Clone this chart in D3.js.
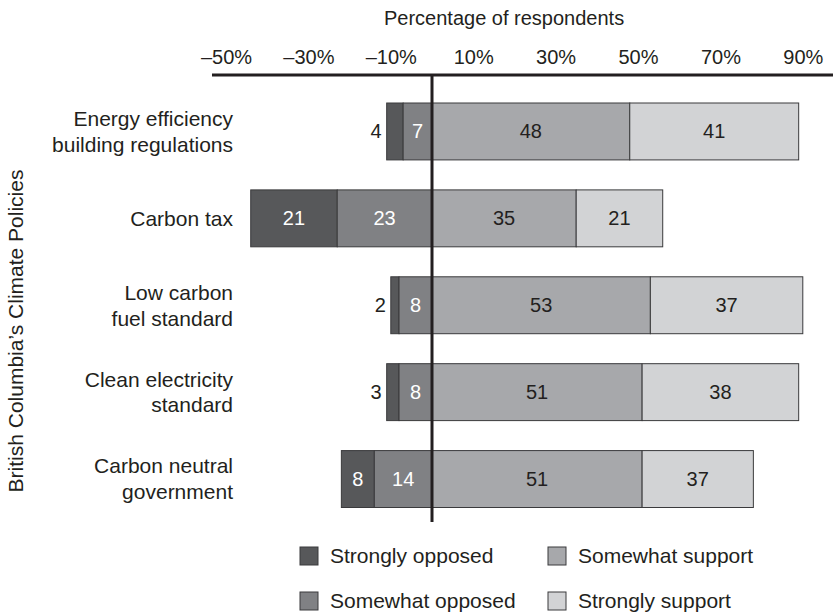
<!DOCTYPE html>
<meta charset="utf-8">
<style>
  body { margin: 0; background: #fff; }
  svg { font-family: "Liberation Sans", Arial, Helvetica, sans-serif; }
</style>
<body>
<script src="https://d3js.org/d3.v7.min.js"></script>
<script>
  // policies, top to bottom
  var policies = [
    "Energy efficiency|building regulations",
    "Carbon tax",
    "Low carbon|fuel standard",
    "Clean electricity|standard",
    "Carbon neutral|government"
  ];

  var seriesNames = ["Strongly opposed", "Somewhat opposed", "Somewhat support", "Strongly support"];

  // percentages as drawn in the figure
  var stronglyOpposed = [4, 21, 2, 3, 8];
  var somewhatOpposed = [7, 23, 8, 8, 14];
  var somewhatSupport = [48, 35, 53, 51, 51];
  var stronglySupport = [41, 21, 37, 38, 27];

  // numbers printed on the bars (the last one is printed as 37 in the original)
  var stronglySupportLabels = [41, 21, 37, 38, 37];

  var tickValues = [-50, -30, -10, 10, 30, 50, 70, 90];

  var W = 833, H = 614;
  var colors = ["#57585a", "#808184", "#a7a8ab", "#d2d3d5"];
  var ink = "#231f20";

  var svg = d3.select("body").append("svg")
    .attr("width", W)
    .attr("height", H);

  var x = d3.scaleLinear()
    .domain([-50, 90])
    .range([226, 802.8]);

  var y = d3.scaleBand()
    .domain(d3.range(policies.length))
    .range([103, 507.5])
    .paddingInner(0.345);

  // build segments
  var rows = policies.map(function (p, i) {
    var so = stronglyOpposed[i], wo = somewhatOpposed[i];
    var ws = somewhatSupport[i], ss = stronglySupport[i];
    return [
      { s: 0, x0: -(so + wo), x1: -wo, label: so, i: i },
      { s: 1, x0: -wo, x1: 0, label: wo, i: i },
      { s: 2, x0: 0, x1: ws, label: ws, i: i },
      { s: 3, x0: ws, x1: ws + ss, label: stronglySupportLabels[i], i: i }
    ];
  });

  // title
  svg.append("text")
    .attr("x", x(17.5))
    .attr("y", 25)
    .attr("text-anchor", "middle")
    .style("font-size", "20px")
    .attr("fill", ink)
    .text("Percentage of respondents");

  // top axis
  var axis = d3.axisTop(x)
    .tickValues(tickValues)
    .tickSize(0)
    .tickPadding(11)
    .tickFormat(function (d) { return (d < 0 ? "\u2013" + Math.abs(d) : d) + "%"; });

  var gAxis = svg.append("g")
    .attr("transform", "translate(0,75)")
    .call(axis);
  gAxis.select(".domain").remove();
  gAxis.selectAll("text")
    .style("font-size", "20px")
    .style("font-family", "'Liberation Sans', Arial, sans-serif")
    .attr("fill", ink);

  svg.append("line")
    .attr("x1", x(-53.4))
    .attr("x2", W)
    .attr("y1", 75)
    .attr("y2", 75)
    .attr("stroke", ink)
    .attr("stroke-width", 3);

  // bars
  var rowG = svg.selectAll(".row")
    .data(rows)
    .enter().append("g")
    .attr("class", "row")
    .attr("transform", function (d, i) { return "translate(0," + y(i) + ")"; });

  rowG.selectAll("rect")
    .data(function (d) { return d; })
    .enter().append("rect")
    .attr("x", function (d) { return x(d.x0); })
    .attr("width", function (d) { return x(d.x1) - x(d.x0); })
    .attr("y", 0)
    .attr("height", y.bandwidth())
    .attr("fill", function (d) { return colors[d.s]; })
    .attr("stroke", "#3a3a3c")
    .attr("stroke-width", 1);

  rowG.selectAll(".val")
    .data(function (d) { return d; })
    .enter().append("text")
    .attr("class", "val")
    .attr("x", function (d) {
      if (d.label < 5) return x(d.x0) - 5;
      return (x(d.x0) + x(d.x1)) / 2;
    })
    .attr("y", y.bandwidth() / 2)
    .attr("dy", "0.35em")
    .attr("text-anchor", function (d) { return d.label < 5 ? "end" : "middle"; })
    .style("font-size", "20px")
    .attr("fill", function (d) { return (d.s < 2 && d.label >= 5) ? "#fff" : ink; })
    .text(function (d) { return d.label; });

  // zero line
  svg.append("line")
    .attr("x1", x(0))
    .attr("x2", x(0))
    .attr("y1", 75)
    .attr("y2", 522)
    .attr("stroke", ink)
    .attr("stroke-width", 3);

  // category labels
  var catG = svg.selectAll(".cat")
    .data(policies)
    .enter().append("text")
    .attr("class", "cat")
    .attr("text-anchor", "end")
    .style("font-size", "21px")
    .attr("fill", ink)
    .attr("transform", function (d, i) { return "translate(233," + (y(i) + y.bandwidth() / 2) + ")"; });

  catG.selectAll("tspan")
    .data(function (d) {
      var parts = d.split("|");
      return parts.map(function (t, k) { return { t: t, k: k, n: parts.length }; });
    })
    .enter().append("tspan")
    .attr("x", 0)
    .attr("y", function (d) { return (d.k - (d.n - 1) / 2) * 26; })
    .attr("dy", "0.35em")
    .text(function (d) { return d.t; });

  // y title
  svg.append("text")
    .attr("transform", "translate(23," + 331 + ") rotate(-90)")
    .attr("text-anchor", "middle")
    .style("font-size", "21px")
    .attr("fill", ink)
    .text("British Columbia\u2019s Climate Policies");

  // legend
  var legendPos = [
    { col: 300, row: 556 },
    { col: 300, row: 601 },
    { col: 548, row: 556 },
    { col: 548, row: 601 }
  ];

  var leg = svg.selectAll(".leg")
    .data(seriesNames)
    .enter().append("g")
    .attr("class", "leg")
    .attr("transform", function (d, i) { return "translate(" + legendPos[i].col + "," + legendPos[i].row + ")"; });

  leg.append("rect")
    .attr("x", 0)
    .attr("y", -9)
    .attr("width", 18)
    .attr("height", 18)
    .attr("fill", function (d, i) { return colors[i]; })
    .attr("stroke", "#3a3a3c")
    .attr("stroke-width", 1);

  leg.append("text")
    .attr("x", 30)
    .attr("y", 0)
    .attr("dy", "0.35em")
    .style("font-size", "21px")
    .attr("fill", ink)
    .text(function (d) { return d; });
</script>
</body>
